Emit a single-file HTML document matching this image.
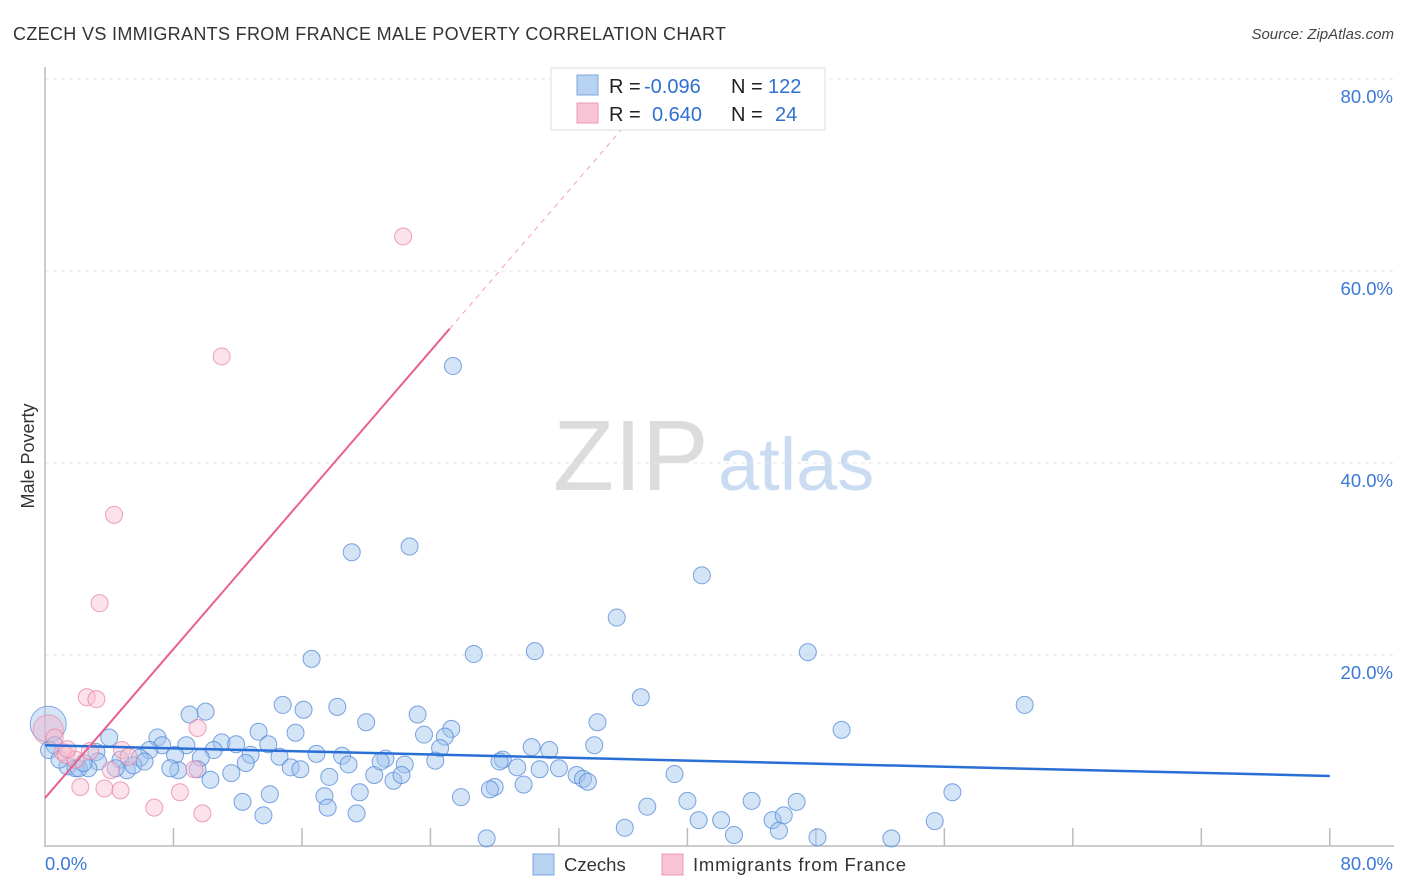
<!DOCTYPE html>
<html><head><meta charset="utf-8">
<style>
body{margin:0;background:#fff;font-family:"Liberation Sans",sans-serif;}
#wrap{position:relative;width:1406px;height:892px;overflow:hidden;}
svg text{font-family:"Liberation Sans",sans-serif;}
</style></head>
<body>
<div id="wrap">
<svg id="chart" width="1406" height="892">
<text x="13" y="40" font-size="18" fill="#333" textLength="713">CZECH VS IMMIGRANTS FROM FRANCE MALE POVERTY CORRELATION CHART</text>
<text x="1394" y="39" font-size="15" fill="#444" font-style="italic" text-anchor="end">Source: ZipAtlas.com</text>
<text x="34" y="456" font-size="18" fill="#333" text-anchor="middle" transform="rotate(-90 34 456)">Male Poverty</text>
<g>
<text x="553" y="490" font-size="100" fill="#dcdcdc" font-family="Liberation Serif, serif">ZIP</text>
<text x="718" y="490" font-size="74" fill="#cadcf2">atlas</text>
</g>
<g id="grid"></g>
<g id="pts"></g>
<g id="lines"></g>
<g>
<rect x="551" y="68" width="274" height="62" fill="#fff" stroke="#ddd"/>
<rect x="577" y="75" width="21" height="20" fill="#b8d2f2" stroke="#7ea6dc"/>
<rect x="577" y="103" width="21" height="20" fill="#f8c3d3" stroke="#ec9ab4"/>
<text x="609" y="93" font-size="20" fill="#222">R = <tspan fill="#2f6fd1" x="644">-0.096</tspan></text>
<text x="731" y="93" font-size="20" fill="#222">N = <tspan fill="#2f6fd1" x="768">122</tspan></text>
<text x="609" y="121" font-size="20" fill="#222">R = <tspan fill="#2f6fd1" x="652">0.640</tspan></text>
<text x="731" y="121" font-size="20" fill="#222">N = <tspan fill="#2f6fd1" x="775">24</tspan></text>
</g>
<g>
<rect x="533" y="854" width="21" height="21" fill="#b8d2f2" stroke="#7ea6dc"/>
<text x="564" y="871" font-size="18.5" fill="#333">Czechs</text>
<rect x="662" y="854" width="21" height="21" fill="#f8c3d3" stroke="#ec9ab4"/>
<text x="693" y="871" font-size="18.5" fill="#333" textLength="213">Immigrants from France</text>
</g>
</svg>
</div>
<script>
const yTicks=[20,40,60,80];
const yTickLabels=["20.0%","40.0%","60.0%","80.0%"];
const xTicks=[8,16,24,32,40,48,56,64,72,80];
const czechX=[25.4,19.1,22.7,40.9,35.6,16.6,26.7,30.5,47.5,61.0,37.1,49.6,14.8,16.1,18.2,23.2,10.0,9.0,20.0,25.3,23.6,34.4,13.3,15.6,7.0,4.0,7.3,8.8,11.0,11.9,13.9,24.9,34.2,30.3,31.4,24.6,10.5,6.5,3.2,0.6,0.25,3.3,4.7,5.9,8.1,9.7,12.8,14.6,16.9,18.5,21.2,22.4,24.3,28.5,28.3,29.4,30.8,32.0,33.1,33.5,33.8,39.2,2.7,1.4,1.9,5.1,5.5,8.3,9.5,11.6,12.5,15.3,15.9,17.7,18.9,20.5,20.9,21.7,22.2,28.0,29.8,12.3,14.0,17.4,19.6,25.9,27.7,17.6,19.4,13.6,37.5,40.0,44.0,46.8,56.5,40.7,36.1,42.1,45.3,45.7,46.0,42.9,48.1,27.5,52.7,55.4,2.1,0.9,2.4,6.2,4.4,7.8,10.3];
const czechY=[50.1,30.7,31.3,28.3,23.9,19.6,20.1,20.4,20.3,14.8,15.6,12.2,14.8,14.3,14.6,13.8,14.1,13.8,13.0,12.3,11.7,13.0,12.0,11.9,11.4,11.4,10.6,10.6,10.9,10.7,10.7,11.5,10.6,10.4,10.1,10.3,10.1,10.1,9.9,10.6,10.1,8.9,9.1,9.3,9.6,9.3,9.6,9.4,9.7,9.5,9.2,8.6,9.0,9.1,8.9,8.3,8.1,8.2,7.5,7.1,6.8,7.6,8.2,8.4,8.2,8.0,8.5,8.0,8.1,7.7,8.75,8.3,8.1,7.3,8.6,7.5,8.9,6.9,7.5,6.25,6.5,4.7,5.5,5.3,5.7,5.2,6.0,4.1,3.5,3.3,4.2,4.8,4.8,4.7,5.7,2.8,2.0,2.8,2.8,1.7,3.3,1.25,1.0,0.9,0.9,2.7,8.2,9.1,8.75,8.9,8.2,8.2,7.0];
const franceX=[22.3,11.0,4.3,3.4,2.6,3.2,9.5,0.6,1.1,1.3,1.9,2.8,4.8,5.2,4.1,2.2,3.7,4.7,6.8,8.4,9.8,9.3,1.4];
const franceY=[63.6,51.1,34.6,25.4,15.6,15.4,12.4,11.4,9.9,9.6,9.1,10.0,10.1,9.4,8.0,6.25,6.1,5.9,4.1,5.7,3.5,8.1,10.2];
const czechTrend=[10.6,7.4];      // y at x=0 and x=80
const franceTrend=[5.1,1.94];     // intercept, slope
const NS="http://www.w3.org/2000/svg";
const X=v=>45+v*16.06, Y=v=>847-v*9.6;
function mk(tag,attrs,parent){const e=document.createElementNS(NS,tag);for(const k in attrs)e.setAttribute(k,attrs[k]);parent.appendChild(e);return e;}
const grid=document.getElementById('grid');
yTicks.forEach((t,i)=>{
  const l=mk('line',{x1:45,x2:1394,y1:Y(t),y2:Y(t),stroke:'#e4e4e4','stroke-dasharray':'4,4'},grid);
  
  
  const tx=mk('text',{x:1393,y:Y(t)+24,'font-size':18.5,fill:'#3b78d8','text-anchor':'end'},grid);
  tx.textContent=yTickLabels[i];
  
  
});
const ya=mk('line',{x1:45,x2:45,y1:67,y2:847,stroke:'#bbb','stroke-width':1.5},grid);


const xa=mk('line',{x1:45,x2:1394,y1:846,y2:846,stroke:'#bbb','stroke-width':1.5},grid);


xTicks.forEach(t=>{
  const l=mk('line',{x1:X(t),x2:X(t),y1:828,y2:846,stroke:'#bbb','stroke-width':1.5},grid);
  
  
});
const x0=mk('text',{x:45,y:870,'font-size':18.5,fill:'#3b78d8'},grid);x0.textContent='0.0%';


const x1=mk('text',{x:1393,y:870,'font-size':18.5,fill:'#3b78d8','text-anchor':'end'},grid);x1.textContent='80.0%';


const pts=document.getElementById('pts');
const bigB=mk('circle',{cx:X(0.2),cy:Y(12.8),r:18,fill:'rgba(160,195,238,0.45)',stroke:'rgba(90,140,215,0.7)'},pts);


const bigP=mk('circle',{cx:X(0.2),cy:Y(12.2),r:15,fill:'rgba(245,180,200,0.45)',stroke:'rgba(230,140,170,0.7)'},pts);


czechX.forEach((v,i)=>{
  const c=mk('circle',{cx:X(v),cy:Y(czechY[i]),r:8.5,fill:'rgba(160,195,238,0.45)',stroke:'rgba(80,135,215,0.75)','stroke-width':1},pts);
  
  
});
franceX.forEach((v,i)=>{
  const c=mk('circle',{cx:X(v),cy:Y(franceY[i]),r:8.5,fill:'rgba(248,190,208,0.45)',stroke:'rgba(232,130,165,0.75)','stroke-width':1},pts);
  
  
});
const lines=document.getElementById('lines');
const bl=mk('line',{x1:X(0),y1:Y(czechTrend[0]),x2:X(80),y2:Y(czechTrend[1]),stroke:'#2a6fd6','stroke-width':2.5},lines);


const fy=x=>franceTrend[0]+franceTrend[1]*x;
const pl=mk('line',{x1:X(0),y1:Y(fy(0)),x2:X(25.2),y2:Y(fy(25.2)),stroke:'#e8608f','stroke-width':2},lines);


const pd=mk('line',{x1:X(25.2),y1:Y(fy(25.2)),x2:X(36.5),y2:Y(fy(36.5)),stroke:'#f0a0b8','stroke-width':1,'stroke-dasharray':'5,5'},lines);


</script>
</body></html>
